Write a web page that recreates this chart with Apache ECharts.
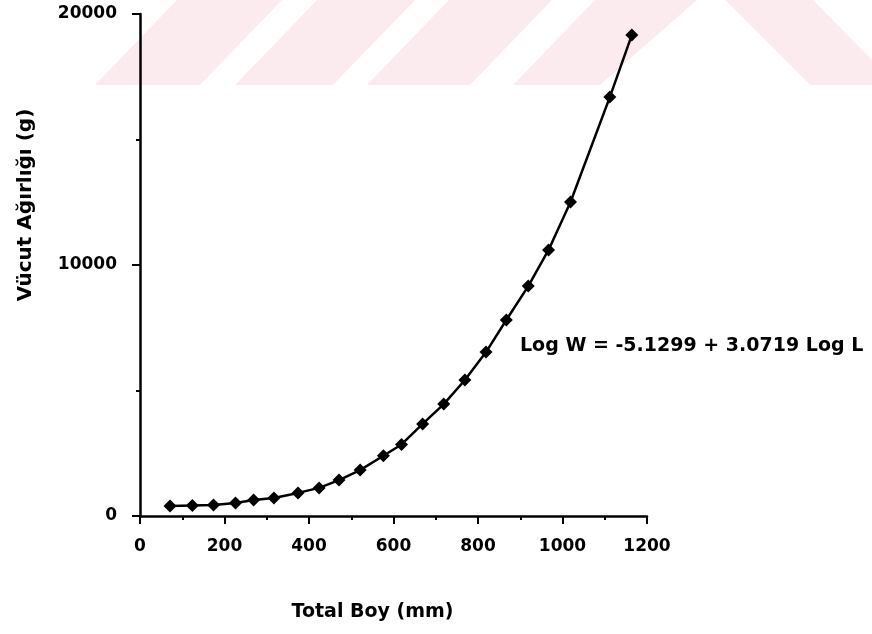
<!DOCTYPE html>
<html>
<head>
    <meta charset="utf-8">
    <style>
        html, body {
            height: 100%;
        }

        * {
            margin: 0;
            padding: 0;
        }

        #container {
            width: 872px;
            height: 634px;
            background: #fff;
        }
    </style>
</head>
<body>
<div id="container"></div>
<script type="text/javascript" src="https://cdn.jsdelivr.net/npm/echarts@6/dist/echarts.min.js"></script>
<script type="text/javascript">
    // total length (mm) and body weight (g)
    let boy = [71, 124, 174, 226, 269, 317, 374, 424, 471, 521, 576, 619, 669, 719, 769, 819, 867, 919, 967, 1019, 1112, 1164];
    let agirlik = [400, 420, 440, 520, 640, 720, 920, 1120, 1430, 1830, 2400, 2850, 3670, 4460, 5420, 6530, 7810, 9160, 10600, 12510, 16690, 19160];
    let xTicks = [0, 200, 400, 600, 800, 1000, 1200];
    let yTicks = [0, 10000, 20000];
    let denklem = 'Log W = -5.1299 + 3.0719 Log L';

    let dom = document.getElementById("container");
    let myChart = echarts.init(dom);
    let data = boy.map(function (v, i) {
        return [v, agirlik[i]];
    });

    let pink = '#fcebee';
    // pale watermark stripes behind the plot
    let stripes = [
        [[95, 85], [177, 0], [282, 0], [200, 85]],
        [[235, 85], [317, 0], [415, 0], [333, 85]],
        [[367, 85], [449, 0], [552, 0], [470, 85]],
        [[513, 85], [595, 0], [697, 0], [600, 85]],
        [[725, 0], [813, 0], [872, 60], [872, 85], [810, 85]]
    ];
    let bg = stripes.map(function (pts) {
        return {
            type: 'polygon',
            z: -10,
            silent: true,
            shape: {points: pts},
            style: {fill: pink}
        };
    });

    let font = 'DejaVu Sans';
    let option = {
        animation: false,
        grid: {
            left: 140,
            right: 225,
            top: 14,
            bottom: 118
        },
        xAxis: {
            type: 'value',
            min: 0,
            max: 1200,
            interval: 200,
            name: 'Total Boy (mm)',
            nameLocation: 'middle',
            nameGap: 87,
            nameTextStyle: {
                color: '#000',
                fontFamily: font,
                fontWeight: 'bold',
                fontSize: 19,
                padding: [0, 42, 0, 0]
            },
            axisLine: {lineStyle: {color: '#000', width: 2.5}},
            axisTick: {length: 8, lineStyle: {color: '#000', width: 2}},
            minorTick: {show: true, splitNumber: 2, length: 4, lineStyle: {color: '#000', width: 2}},
            splitLine: {show: false},
            axisLabel: {
                margin: 22,
                color: '#000',
                fontFamily: font,
                fontWeight: 'bold',
                fontSize: 17,
                formatter: function (v) {
                    return xTicks.indexOf(v) >= 0 ? String(v) : '';
                }
            }
        },
        yAxis: {
            type: 'value',
            min: 0,
            max: 20000,
            interval: 10000,
            name: 'Vücut Ağırlığı (g)',
            nameLocation: 'middle',
            nameGap: 104,
            nameTextStyle: {
                color: '#000',
                fontFamily: font,
                fontWeight: 'bold',
                fontSize: 20,
                padding: [0, 0, 0, 120]
            },
            axisLine: {show: true, lineStyle: {color: '#000', width: 2.5}},
            axisTick: {show: true, length: 8, lineStyle: {color: '#000', width: 2}},
            minorTick: {show: true, splitNumber: 2, length: 4, lineStyle: {color: '#000', width: 2}},
            splitLine: {show: false},
            axisLabel: {
                margin: 23,
                color: '#000',
                fontFamily: font,
                fontWeight: 'bold',
                fontSize: 17,
                formatter: function (v) {
                    return yTicks.indexOf(v) >= 0 ? String(v) : '';
                }
            }
        },
        graphic: bg.concat([{
            type: 'text',
            left: 520,
            top: 337,
            style: {
                text: denklem,
                fill: '#000',
                font: 'bold 19px "DejaVu Sans"'
            }
        }]),
        series: [{
            type: 'line',
            data: data,
            symbol: 'diamond',
            symbolSize: 13,
            showAllSymbol: true,
            itemStyle: {color: '#000'},
            lineStyle: {color: '#000', width: 2.5}
        }]
    };
    myChart.setOption(option, true);
</script>
</body>
</html>
